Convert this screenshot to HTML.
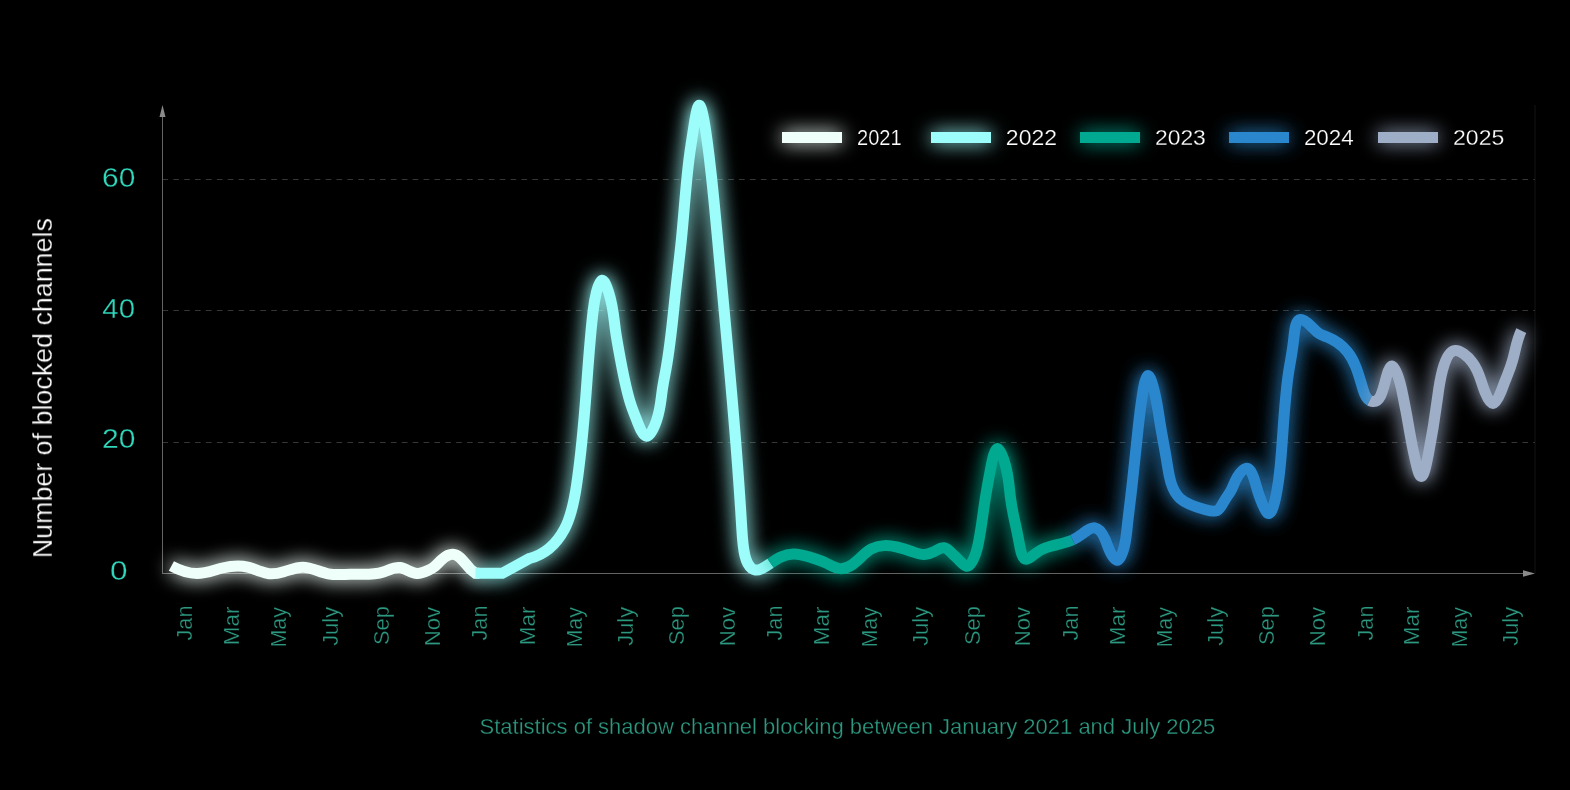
<!DOCTYPE html>
<html><head><meta charset="utf-8"><style>
html,body{margin:0;padding:0;background:#000;width:1570px;height:790px;overflow:hidden}
svg{display:block}
text{font-family:"Liberation Sans",sans-serif}
</style></head><body>
<svg width="1570" height="790" viewBox="0 0 1570 790">
<defs>
<filter id="glow" x="-20%" y="-20%" width="140%" height="140%" filterUnits="userSpaceOnUse">
<feGaussianBlur in="SourceGraphic" stdDeviation="9.5" result="b"/>
<feComponentTransfer in="b" result="b2"><feFuncA type="linear" slope="1.2"/></feComponentTransfer>
<feMerge><feMergeNode in="b2"/><feMergeNode in="SourceGraphic"/></feMerge>
</filter>
<filter id="glow2" x="-40%" y="-300%" width="180%" height="700%">
<feGaussianBlur in="SourceGraphic" stdDeviation="9.5" result="b"/>
<feComponentTransfer in="b" result="b2"><feFuncA type="linear" slope="1.05"/></feComponentTransfer>
<feMerge><feMergeNode in="b2"/><feMergeNode in="SourceGraphic"/></feMerge>
</filter>
</defs>
<line x1="1535" y1="105" x2="1535" y2="573" stroke="#141414" stroke-width="1"/>
<line x1="162.4" y1="179.5" x2="1535" y2="179.5" stroke="#363636" stroke-width="1" stroke-dasharray="5.7 5.18"/>
<line x1="162.4" y1="310.5" x2="1535" y2="310.5" stroke="#363636" stroke-width="1" stroke-dasharray="5.7 5.18"/>
<line x1="162.4" y1="442.5" x2="1535" y2="442.5" stroke="#363636" stroke-width="1" stroke-dasharray="5.7 5.18"/>
<line x1="162.5" y1="115" x2="162.5" y2="573.5" stroke="#636363" stroke-width="1"/>
<path d="M162.5,105 L159.5,117 L165.5,117 Z" fill="#8a8a8a"/>
<line x1="162" y1="573.5" x2="1525" y2="573.5" stroke="#636363" stroke-width="1"/>
<path d="M1535,573.5 L1523,570.2 L1523,576.8 Z" fill="#8a8a8a"/>
<g font-family="'Liberation Sans', sans-serif" style="will-change:transform" stroke="#000" stroke-width="0.3">
<text transform="matrix(1.0534,0,0,1,102.11,186.70)" font-size="28.4" fill="#2fd7bc">60</text>
<text transform="matrix(1.0367,0,0,1,102.32,318.10)" font-size="28.4" fill="#2fd7bc">40</text>
<text transform="matrix(1.0569,0,0,1,102.00,447.80)" font-size="28.4" fill="#2fd7bc">20</text>
<text transform="matrix(1.1106,0,0,1,110.08,579.60)" font-size="28.4" fill="#2fd7bc">0</text>
<text transform="matrix(0,-0.9832,1,0,52.00,558.24)" font-size="27.3" fill="#ffffff">Number of blocked channels</text>
<text transform="matrix(0,-0.9618,1,0,192.20,640.45)" font-size="22.5" fill="#2c9880">Jan</text>
<text transform="matrix(0,-0.9956,1,0,239.30,645.18)" font-size="22.5" fill="#2c9880">Mar</text>
<text transform="matrix(0,-0.9569,1,0,286.40,647.61)" font-size="22.5" fill="#2c9880">May</text>
<text transform="matrix(0,-0.9740,1,0,338.00,645.85)" font-size="22.5" fill="#2c9880">July</text>
<text transform="matrix(0,-0.9712,1,0,389.30,644.99)" font-size="22.5" fill="#2c9880">Sep</text>
<text transform="matrix(0,-0.9870,1,0,440.00,646.37)" font-size="22.5" fill="#2c9880">Nov</text>
<text transform="matrix(0,-0.9618,1,0,487.40,640.45)" font-size="22.5" fill="#2c9880">Jan</text>
<text transform="matrix(0,-0.9956,1,0,534.50,645.18)" font-size="22.5" fill="#2c9880">Mar</text>
<text transform="matrix(0,-0.9569,1,0,581.70,647.61)" font-size="22.5" fill="#2c9880">May</text>
<text transform="matrix(0,-0.9740,1,0,632.90,645.85)" font-size="22.5" fill="#2c9880">July</text>
<text transform="matrix(0,-0.9712,1,0,684.20,644.99)" font-size="22.5" fill="#2c9880">Sep</text>
<text transform="matrix(0,-0.9870,1,0,735.20,646.37)" font-size="22.5" fill="#2c9880">Nov</text>
<text transform="matrix(0,-0.9618,1,0,782.30,640.45)" font-size="22.5" fill="#2c9880">Jan</text>
<text transform="matrix(0,-0.9956,1,0,829.40,645.18)" font-size="22.5" fill="#2c9880">Mar</text>
<text transform="matrix(0,-0.9569,1,0,876.60,647.61)" font-size="22.5" fill="#2c9880">May</text>
<text transform="matrix(0,-0.9740,1,0,927.90,645.85)" font-size="22.5" fill="#2c9880">July</text>
<text transform="matrix(0,-0.9712,1,0,979.50,644.99)" font-size="22.5" fill="#2c9880">Sep</text>
<text transform="matrix(0,-0.9870,1,0,1030.30,646.37)" font-size="22.5" fill="#2c9880">Nov</text>
<text transform="matrix(0,-0.9618,1,0,1077.70,640.45)" font-size="22.5" fill="#2c9880">Jan</text>
<text transform="matrix(0,-0.9956,1,0,1124.70,645.18)" font-size="22.5" fill="#2c9880">Mar</text>
<text transform="matrix(0,-0.9569,1,0,1171.60,647.61)" font-size="22.5" fill="#2c9880">May</text>
<text transform="matrix(0,-0.9740,1,0,1223.20,645.85)" font-size="22.5" fill="#2c9880">July</text>
<text transform="matrix(0,-0.9712,1,0,1274.20,644.99)" font-size="22.5" fill="#2c9880">Sep</text>
<text transform="matrix(0,-0.9870,1,0,1325.20,646.37)" font-size="22.5" fill="#2c9880">Nov</text>
<text transform="matrix(0,-0.9618,1,0,1372.50,640.45)" font-size="22.5" fill="#2c9880">Jan</text>
<text transform="matrix(0,-0.9956,1,0,1419.40,645.18)" font-size="22.5" fill="#2c9880">Mar</text>
<text transform="matrix(0,-0.9569,1,0,1466.60,647.61)" font-size="22.5" fill="#2c9880">May</text>
<text transform="matrix(0,-0.9740,1,0,1518.00,645.85)" font-size="22.5" fill="#2c9880">July</text>
<text transform="matrix(0.9998,0,0,1,479.60,733.60)" font-size="22.0" fill="#2c9880">Statistics of shadow channel blocking between January 2021 and July 2025</text>
</g>
<rect x="782" y="132" width="60" height="11" fill="#effffa" filter="url(#glow2)"/>
<g font-family="'Liberation Sans', sans-serif" style="will-change:transform" stroke="#000" stroke-width="0.25"><text transform="matrix(0.8813,0,0,1,857.00,144.70)" font-size="22.8" fill="#ffffff">2021</text></g>
<rect x="931" y="132" width="60" height="11" fill="#9cfdfb" filter="url(#glow2)"/>
<g font-family="'Liberation Sans', sans-serif" style="will-change:transform" stroke="#000" stroke-width="0.25"><text transform="matrix(1.0090,0,0,1,1005.87,144.70)" font-size="22.8" fill="#ffffff">2022</text></g>
<rect x="1080" y="132" width="60" height="11" fill="#00a98f" filter="url(#glow2)"/>
<g font-family="'Liberation Sans', sans-serif" style="will-change:transform" stroke="#000" stroke-width="0.25"><text transform="matrix(1.0028,0,0,1,1154.97,144.70)" font-size="22.8" fill="#ffffff">2023</text></g>
<rect x="1229" y="132" width="60" height="11" fill="#2b87cd" filter="url(#glow2)"/>
<g font-family="'Liberation Sans', sans-serif" style="will-change:transform" stroke="#000" stroke-width="0.25"><text transform="matrix(0.9842,0,0,1,1303.89,144.70)" font-size="22.8" fill="#ffffff">2024</text></g>
<rect x="1378" y="132" width="60" height="11" fill="#9eaec7" filter="url(#glow2)"/>
<g font-family="'Liberation Sans', sans-serif" style="will-change:transform" stroke="#000" stroke-width="0.25"><text transform="matrix(1.0098,0,0,1,1453.07,144.70)" font-size="22.8" fill="#ffffff">2025</text></g>
<path d="M171.40,566.00 C178.74,569.92 188.07,573.45 196.90,573.47 C205.58,573.49 213.79,570.12 222.34,568.01 C230.72,565.94 239.43,565.09 247.73,567.05 C252.06,568.08 256.28,569.87 260.53,571.42 C263.32,572.44 266.13,573.36 268.99,573.70 C273.81,574.28 278.80,573.24 283.69,571.77 C290.18,569.83 296.52,567.15 302.83,567.18 C311.26,567.21 319.63,572.09 328.24,573.78 C335.56,575.22 343.05,574.36 350.51,574.25 C361.55,574.08 372.52,575.56 383.27,571.98 C388.85,570.12 394.37,566.90 399.76,567.52 C405.49,568.18 411.07,573.18 416.98,573.52 C420.60,573.72 424.35,572.18 427.82,570.57 C429.85,569.62 431.78,568.66 433.49,567.42 C436.57,565.19 438.93,562.08 442.07,559.33 C445.29,556.52 449.33,554.09 452.99,554.28 C460.16,554.65 465.85,565.08 470.69,569.46 C471.99,570.64 473.23,571.38 475.50,573.29 L479.50,573.30" fill="none" stroke="#effffa" stroke-width="11" stroke-linejoin="miter" stroke-miterlimit="4" filter="url(#glow)"/>
<path d="M475.50,573.30 L502.30,573.30 L529.49,558.50 C545.09,554.41 557.12,542.86 564.46,529.12 C571.59,515.79 574.30,500.42 576.54,485.22 C581.24,453.42 583.90,422.44 586.28,390.56 C588.28,363.72 590.09,336.24 593.17,310.78 C593.85,305.11 594.60,299.55 596.40,292.43 C597.79,286.93 599.81,280.49 602.01,280.23 C604.29,279.96 606.76,286.34 608.58,292.07 C613.29,306.81 613.73,317.17 615.24,328.83 C616.54,338.80 618.63,349.73 620.65,360.42 C623.59,375.98 626.39,391.04 631.05,404.95 C632.69,409.83 634.55,414.57 636.90,420.57 C639.60,427.48 642.93,436.07 646.50,436.29 C650.12,436.51 653.99,428.12 656.46,420.84 C660.51,408.93 660.86,400.02 662.25,390.25 C663.26,383.22 664.80,375.75 666.14,368.31 C670.87,341.95 672.98,315.88 675.79,289.99 C677.60,273.21 679.71,256.51 681.41,239.45 C684.23,211.15 685.92,181.85 689.48,155.66 C690.50,148.16 691.67,140.91 693.20,130.79 C694.89,119.72 697.01,105.22 699.30,105.31 C701.60,105.39 704.06,120.14 705.73,131.06 C707.24,140.98 708.09,147.72 708.99,155.17 C709.90,162.74 710.86,171.04 711.75,179.29 C713.97,199.74 715.79,219.91 717.65,240.09 C723.83,307.28 730.38,374.48 735.74,442.00 C738.05,471.12 740.14,500.30 741.84,529.18 C742.35,537.87 742.83,546.54 744.85,555.34 C746.00,560.32 747.64,565.35 751.61,568.30 C752.75,569.14 754.08,569.81 755.46,570.01 C757.48,570.29 759.63,569.55 761.61,568.66 C764.91,567.17 767.76,565.26 770.60,563.29" fill="none" stroke="#9cfdfb" stroke-width="11" stroke-linejoin="miter" stroke-miterlimit="4" filter="url(#glow)"/>
<path d="M770.60,563.29 C773.72,561.13 776.84,558.89 780.30,557.20 C784.40,555.20 788.98,553.97 793.50,553.90 C799.41,553.81 805.22,555.70 810.90,557.49 C816.10,559.14 821.19,560.70 826.20,563.12 C831.02,565.44 835.78,568.54 840.79,568.65 C844.73,568.74 848.82,566.98 852.35,564.61 C859.44,559.87 864.25,552.72 871.43,548.94 C875.24,546.94 879.73,545.88 884.12,545.63 C893.99,545.06 903.39,548.53 912.86,551.87 C916.74,553.23 920.62,554.57 924.48,554.46 C927.67,554.36 930.84,553.27 934.01,551.61 C937.47,549.80 940.94,547.30 944.10,547.71 C947.35,548.13 950.28,551.62 953.00,554.36 C955.12,556.50 957.12,558.18 959.30,560.45 C961.64,562.88 964.18,565.98 966.50,566.28 C970.36,566.79 973.61,559.57 975.60,553.81 C977.36,548.71 978.14,544.74 978.90,540.49 C979.91,534.90 980.90,528.82 981.80,522.71 C982.69,516.65 983.50,510.57 984.30,505.00 C985.97,493.42 987.63,484.04 990.70,468.39 C992.45,459.50 994.65,448.58 997.50,448.40 C1000.44,448.22 1004.07,459.49 1006.20,468.39 C1009.04,480.27 1009.20,487.94 1010.40,497.21 C1011.14,502.89 1012.27,509.18 1013.40,514.79 C1015.12,523.32 1016.86,530.29 1018.90,541.40 C1020.36,549.34 1021.98,559.39 1026.40,559.29 C1029.02,559.23 1032.62,555.61 1036.02,553.06 C1039.03,550.80 1041.89,549.36 1044.96,548.20 C1053.71,544.90 1064.21,543.83 1072.68,539.87" fill="none" stroke="#00a98f" stroke-width="11" stroke-linejoin="miter" stroke-miterlimit="4" filter="url(#glow)"/>
<path d="M1072.68,539.87 C1076.04,538.30 1079.07,536.28 1082.42,533.83 C1086.46,530.87 1090.94,527.28 1094.90,527.90 C1099.32,528.59 1103.08,534.53 1105.19,539.38 C1106.20,541.70 1106.84,543.77 1107.81,546.32 C1110.01,552.12 1113.91,560.41 1117.20,560.20 C1120.26,559.99 1122.78,552.42 1124.30,546.30 C1126.01,539.40 1126.45,534.35 1127.00,528.90 C1128.09,518.29 1129.64,506.20 1130.98,494.74 C1132.01,486.02 1132.92,477.66 1133.84,468.97 C1135.43,454.06 1137.06,438.17 1138.56,424.44 C1139.53,415.54 1140.45,407.55 1142.38,395.29 C1143.76,386.54 1145.66,375.60 1148.00,375.41 C1150.39,375.21 1153.25,386.27 1155.20,395.22 C1157.89,407.55 1158.87,415.89 1160.29,424.69 C1162.07,435.74 1164.54,447.50 1166.57,460.13 C1168.85,474.37 1170.57,489.71 1180.07,498.43 C1186.36,504.21 1196.07,507.08 1205.63,509.74 C1209.87,510.92 1214.07,512.06 1217.11,510.53 C1220.19,508.98 1222.06,504.72 1224.29,500.96 C1226.54,497.15 1229.15,493.87 1231.05,490.36 C1233.28,486.25 1234.53,481.83 1237.34,477.07 C1239.70,473.06 1243.17,468.82 1246.00,468.30 C1251.70,467.26 1254.85,481.34 1257.50,490.34 C1259.01,495.47 1260.37,498.95 1262.40,503.80 C1263.98,507.58 1265.98,512.17 1267.80,513.29 C1271.88,515.80 1275.09,500.85 1276.96,490.49 C1278.32,482.99 1278.97,477.89 1279.56,472.44 C1280.16,467.00 1280.69,461.20 1281.18,455.31 C1283.51,427.10 1284.70,396.64 1288.90,370.49 C1290.38,361.29 1292.23,352.63 1293.61,340.12 C1294.62,330.94 1295.38,319.69 1300.40,319.41 C1303.28,319.25 1307.54,322.67 1310.95,326.05 C1313.79,328.87 1316.03,331.67 1318.87,333.47 C1321.10,334.88 1323.69,335.68 1326.24,336.69 C1334.45,339.92 1342.13,345.22 1347.56,351.95 C1355.90,362.29 1358.93,375.97 1363.16,389.89 C1364.49,394.27 1365.94,398.67 1369.65,400.58" fill="none" stroke="#2b87cd" stroke-width="11" stroke-linejoin="miter" stroke-miterlimit="4" filter="url(#glow)"/>
<path d="M1369.65,400.58 C1370.67,401.10 1371.86,401.43 1372.94,401.52 C1379.84,402.08 1382.34,392.57 1384.99,382.39 C1387.11,374.27 1389.32,365.72 1392.00,365.90 C1394.73,366.09 1397.93,375.34 1399.90,382.38 C1401.58,388.37 1402.36,392.75 1403.30,397.61 C1404.15,401.94 1405.12,406.64 1405.99,411.22 C1407.20,417.52 1408.20,423.59 1409.31,429.91 C1410.73,438.01 1412.31,446.51 1413.93,453.87 C1414.67,457.28 1415.43,460.44 1416.44,464.81 C1417.15,467.87 1417.98,471.52 1419.10,473.97 C1419.76,475.42 1420.53,476.45 1421.30,476.44 C1422.07,476.44 1422.83,475.40 1423.50,473.96 C1424.61,471.53 1425.45,467.96 1426.13,464.90 C1427.11,460.52 1427.79,457.19 1428.46,453.74 C1431.77,436.75 1434.99,416.71 1437.36,399.00 C1438.61,389.67 1439.63,380.97 1442.53,370.18 C1444.82,361.63 1448.28,351.76 1454.22,350.63 C1459.83,349.56 1467.65,356.29 1472.47,362.53 C1479.58,371.72 1480.17,379.84 1485.00,392.03 C1487.13,397.41 1490.08,403.58 1493.01,403.49 C1495.96,403.39 1498.88,396.93 1500.94,391.75 C1502.28,388.36 1503.26,385.52 1504.35,382.69 C1505.31,380.22 1506.36,377.76 1507.37,375.24 C1509.37,370.31 1511.24,365.19 1512.70,359.99 C1515.48,350.14 1516.75,340.05 1521.30,330.70" fill="none" stroke="#9eaec7" stroke-width="11" stroke-linejoin="miter" stroke-miterlimit="4" filter="url(#glow)"/>
</svg>
</body></html>
